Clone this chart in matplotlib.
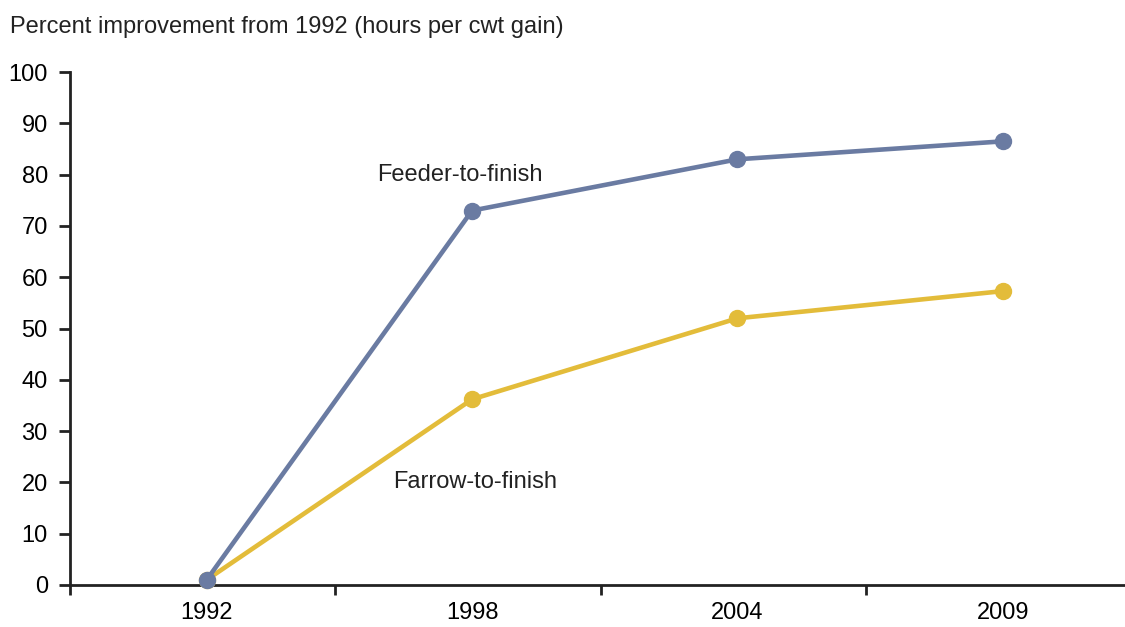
import numpy as np
import matplotlib.pyplot as plt

plt.rcParams['font.family'] = ['Liberation Sans', 'DejaVu Sans']

# Data
years = ['1992', '1998', '2004', '2009']
feeder = [1, 73, 83, 86.5]
farrow = [1, 36.2, 52, 57.3]

blue = '#6a7ba2'
gold = '#e3bc3a'

fig = plt.figure(figsize=(11.25, 6.27), dpi=100)
ax = fig.add_axes([0.0622, 0.067, 0.9378, 0.818])

x = np.arange(len(years))
ax.plot(x, farrow, color=gold, lw=3.3, marker='o', ms=11.5, zorder=3, clip_on=False)
ax.plot(x, feeder, color=blue, lw=3.3, marker='o', ms=11.5, zorder=4, clip_on=False)

ax.text(0.955, 80, 'Feeder-to-finish', ha='center', va='center', fontsize=17, color='#222222')
ax.text(1.01, 20, 'Farrow-to-finish', ha='center', va='center', fontsize=17, color='#222222')

ax.set_ylim(0, 100)
ax.set_yticks(np.arange(0, 101, 10))
ax.set_xlim(-0.515, 3.46)
ax.set_xticks(x)
ax.set_xticklabels(years)
ax.set_xticks(np.arange(-0.515, 3, 1.0), minor=True)
ax.tick_params(axis='x', which='major', length=0, pad=12, labelsize=17)
ax.tick_params(axis='x', which='minor', length=7, width=2, direction='out', color='#222222')
ax.tick_params(axis='y', length=8, width=2, direction='out', labelsize=17, pad=8, color='#222222')

for s in ['top', 'right']:
    ax.spines[s].set_visible(False)
for s in ['left', 'bottom']:
    ax.spines[s].set_linewidth(2)
    ax.spines[s].set_color('#222222')

fig.text(0.009, 0.957, 'Percent improvement from 1992 (hours per cwt gain)', fontsize=17,
         ha='left', va='center', color='#222222')

fig.savefig('out.png', dpi=100)
